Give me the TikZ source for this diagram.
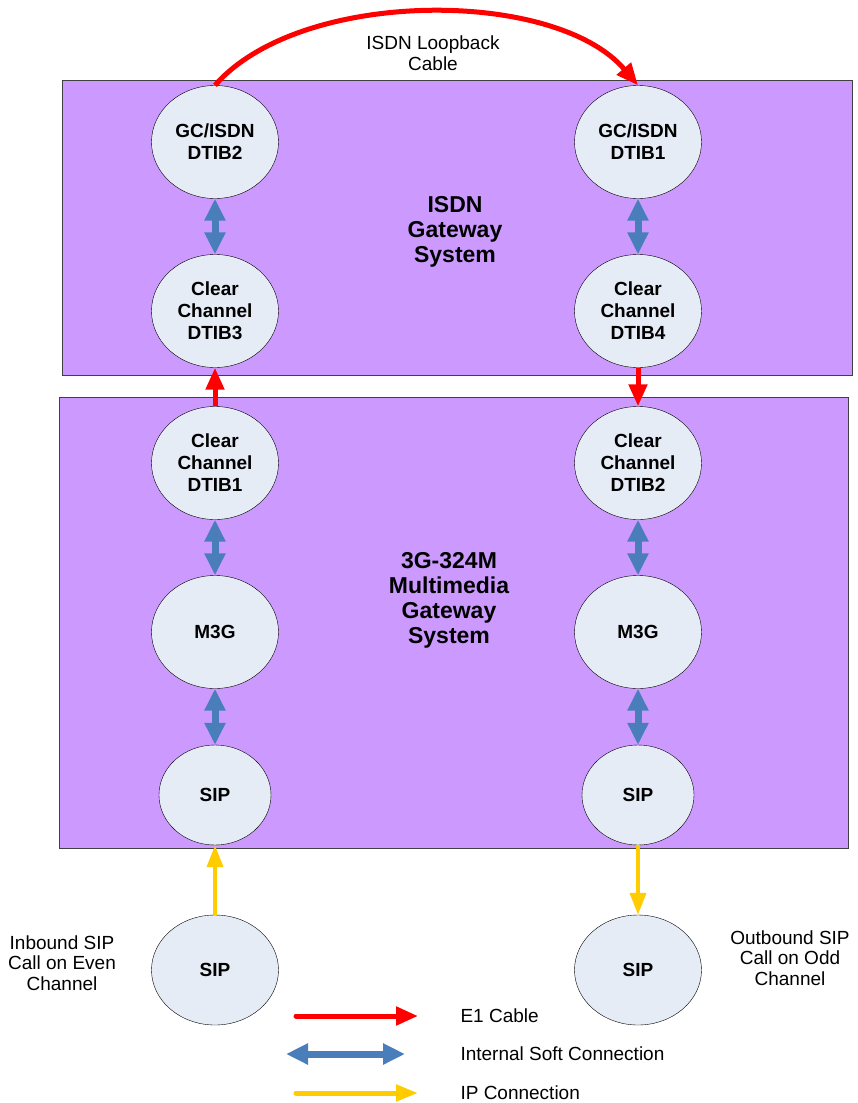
\documentclass[tikz,border=0pt]{standalone}
\usepackage{fontspec}
\setmainfont{Liberation Sans}
\usetikzlibrary{shapes,arrows.meta,positioning}

\begin{document}
\begin{tikzpicture}[x=1pt,y=-1pt,
	sysbox/.style={draw=black!75,fill={rgb,255:red,204;green,153;blue,255},minimum width=#1,inner sep=0pt},
	unit/.style={ellipse,draw=black,fill={rgb,255:red,230;green,236;blue,246},inner sep=0pt,minimum width=127pt,minimum height=113pt,align=center,font=\fontsize{19}{22}\selectfont\bfseries},
	small/.style={unit,minimum width=112pt,minimum height=100pt},
	title/.style={align=center,font=\fontsize{23}{25}\selectfont\bfseries},
	lbl/.style={align=center,font=\fontsize{19}{20.5}\selectfont},
	e1/.style={draw={rgb,255:red,255;green,0;blue,0},line width=5pt,-{Triangle[length=22pt,width=18pt]}},
	soft/.style={draw={rgb,255:red,74;green,126;blue,187},line width=7pt,{Triangle[length=22pt,width=20pt]}-{Triangle[length=22pt,width=20pt]}},
	ip/.style={draw={rgb,255:red,255;green,204;blue,0},line width=4pt,-{Triangle[length=22pt,width=16pt]}}]
	\useasboundingbox (0,0) rectangle (857,1103);
	% system boxes
	\node[sysbox=790pt,minimum height=295pt] (isdnbox) at (457,227.5) {};
	\node[sysbox=789pt,minimum height=451pt] (mmbox) at (453.5,622.5) {};
	\node[title] (isdntitle) at (455,232) {ISDN\\Gateway\\System};
	\node[title] (mmtitle) at (449,600) {3G-324M\\Multimedia\\Gateway\\System};
	% left column
	\node[unit] (gc2) at (215,142) {GC/ISDN\\DTIB2};
	\node[unit] (cc3) at (215,311) {Clear\\Channel\\DTIB3};
	\node[unit] (cc1) at (215,463) {Clear\\Channel\\DTIB1};
	\node[unit] (m3gl) at (215,632) {M3G};
	\node[small] (sipl) at (215,795) {SIP};
	\node[unit,minimum height=110pt] (sipin) at (215,970) {SIP};
	% right column
	\node[unit] (gc1) at (638,142) {GC/ISDN\\DTIB1};
	\node[unit] (cc4) at (638,311) {Clear\\Channel\\DTIB4};
	\node[unit] (cc2) at (638,463) {Clear\\Channel\\DTIB2};
	\node[unit] (m3gr) at (638,632) {M3G};
	\node[small] (sipr) at (638,795) {SIP};
	\node[unit,minimum height=110pt] (sipout) at (638,970) {SIP};
	% texts
	\node[lbl] (loop) at (433,53) {ISDN Loopback\\Cable};
	\node[lbl] (inb) at (62,963) {Inbound SIP\\Call on Even\\Channel};
	\node[lbl] (outb) at (790,958) {Outbound SIP\\Call on Odd\\Channel};
	% connections
	\draw[e1] (gc2.north) .. controls (300,-12) and (555,-12) .. (gc1.north);
	\draw[soft] (gc2) -- (cc3);
	\draw[soft] (gc1) -- (cc4);
	\draw[e1] (cc1) -- (cc3);
	\draw[e1] (cc4) -- (cc2);
	\draw[soft] (cc1) -- (m3gl);
	\draw[soft] (m3gl) -- (sipl);
	\draw[soft] (cc2) -- (m3gr);
	\draw[soft] (m3gr) -- (sipr);
	\draw[ip] (sipin) -- (sipl);
	\draw[ip] (sipr) -- (sipout);
	% legend
	\coordinate (k1a) at (296,1016);
	\coordinate (k1b) at (418,1016);
	\coordinate (k2a) at (286,1054);
	\coordinate (k2b) at (405,1054);
	\coordinate (k3a) at (296,1093);
	\coordinate (k3b) at (418,1093);
	\draw[e1,line cap=round] (k1a) -- (k1b);
	\draw[soft] (k2a) -- (k2b);
	\draw[ip,line cap=round,line width=5pt] (k3a) -- (k3b);
	\node[lbl,anchor=west] (e1txt) at (457,1016) {E1 Cable};
	\node[lbl,anchor=west] (softtxt) at (457,1054) {Internal Soft Connection};
	\node[lbl,anchor=west] (iptxt) at (457,1093) {IP Connection};
\end{tikzpicture}
\end{document}
